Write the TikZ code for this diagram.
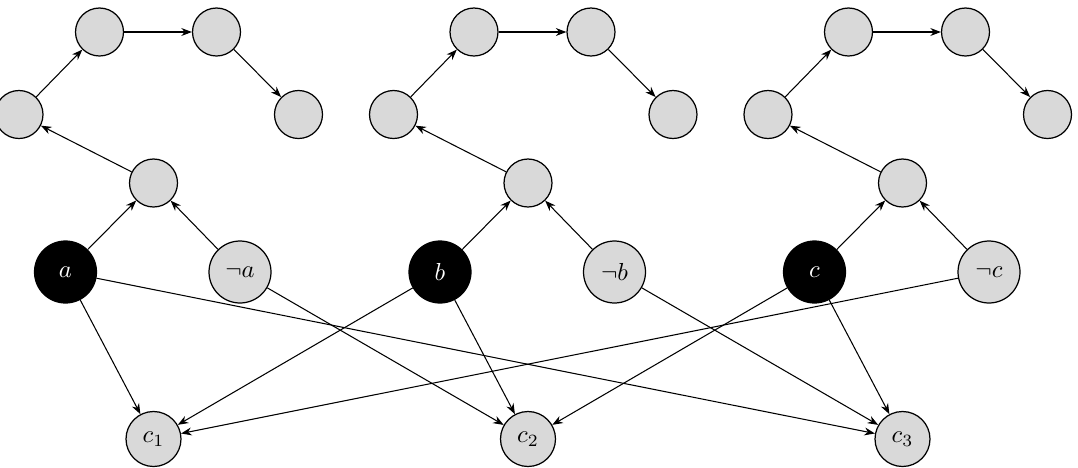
\documentclass[tikz,border=0pt]{standalone}
\usetikzlibrary{arrows.meta}
\newcommand{\lbl}[1]{\scalebox{1.4}{$#1$}}
\begin{document}
\begin{tikzpicture}[x=0.02cm,y=-0.02cm,
  gnode/.style={circle,draw,line width=0.7pt,fill=gray!30,minimum size=0.96cm,inner sep=0pt},
  posnode/.style={circle,draw,line width=0.7pt,fill=black,text=white,minimum size=1.24cm,inner sep=0pt},
  negnode/.style={circle,draw,line width=0.7pt,fill=gray!30,minimum size=1.24cm,inner sep=0pt},
  clnode/.style={circle,draw,line width=0.7pt,fill=gray!30,minimum size=1.1cm,inner sep=0pt},
  arr/.style={-{Stealth[length=6pt,width=4.5pt]},line width=0.6pt}]
\useasboundingbox (0,0) rectangle (1078,467);
\foreach \n/\lit/\cx in {1/a/153.5, 2/b/528, 3/c/902.5}{
  \node[gnode] (m\n) at (\cx,183) {};
  \node[gnode] (l\n) at (\cx-134.5,114.5) {};
  \node[gnode] (tl\n) at (\cx-54,32) {};
  \node[gnode] (tr\n) at (\cx+63,32) {};
  \node[gnode] (r\n) at (\cx+145,114.5) {};
  \node[posnode] (p\n) at (\cx-88,272) {\lbl{\lit}};
  \node[negnode] (n\n) at (\cx+86.5,272) {\lbl{\neg \lit}};
  \node[clnode] (c\n) at (\cx,439) {\lbl{c_{\n}}};
  \draw[arr] (m\n) -- (l\n);
  \draw[arr] (l\n) -- (tl\n);
  \draw[arr] (tl\n) -- (tr\n);
  \draw[arr] (tr\n) -- (r\n);
  \draw[arr] (p\n) -- (m\n);
  \draw[arr] (n\n) -- (m\n);
}
\draw[arr] (p1) -- (c1);
\draw[arr] (p1) -- (c3);
\draw[arr] (n1) -- (c2);
\draw[arr] (p2) -- (c1);
\draw[arr] (p2) -- (c2);
\draw[arr] (n2) -- (c3);
\draw[arr] (p3) -- (c2);
\draw[arr] (p3) -- (c3);
\draw[arr] (n3) -- (c1);
\end{tikzpicture}
\end{document}
